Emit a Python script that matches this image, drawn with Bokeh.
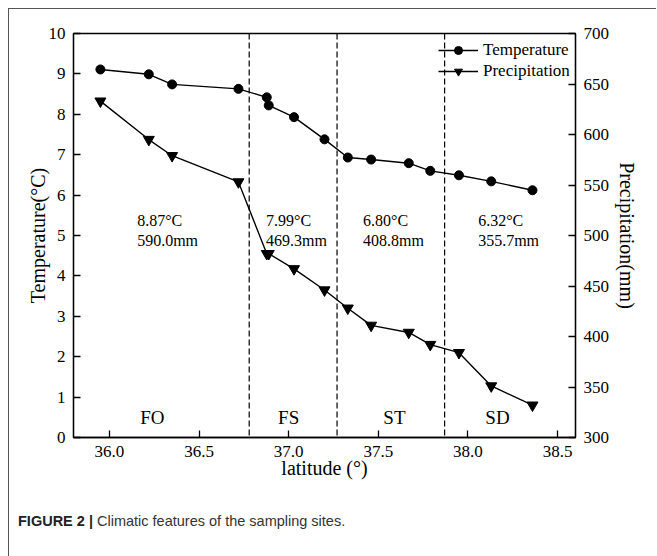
from bokeh.plotting import figure
from bokeh.models import Range1d, LinearAxis, Span, Legend, LegendItem, FixedTicker, ColumnDataSource, Div
from bokeh.layouts import column
from bokeh.core.properties import value
from bokeh.embed import file_html
from bokeh.resources import INLINE

# ---------------- data ----------------
latitude = [35.95, 36.22, 36.35, 36.72, 36.878, 36.889, 37.03, 37.20, 37.33,
            37.46, 37.67, 37.79, 37.95, 38.13, 38.36]
temperature = [9.11, 8.99, 8.74, 8.63, 8.42, 8.22, 7.93, 7.38, 6.93,
               6.88, 6.79, 6.60, 6.49, 6.34, 6.12]
precipitation = [633, 595, 579, 553, 482, 482, 467, 446, 428,
                 411, 404, 392, 384, 351, 332]
zone_bounds = [36.78, 37.27, 37.87]
zone_names = ["FO", "FS", "ST", "SD"]
zone_temp_text = ["8.87°C", "7.99°C", "6.80°C", "6.32°C"]
zone_precip_text = ["590.0mm", "469.3mm", "408.8mm", "355.7mm"]
x_ticks = [36.0, 36.5, 37.0, 37.5, 38.0, 38.5]
temp_ticks = [0, 1, 2, 3, 4, 5, 6, 7, 8, 9, 10]
precip_ticks = [300, 350, 400, 450, 500, 550, 600, 650, 700]
caption_bold = "FIGURE 2 |"
caption_text = "Climatic features of the sampling sites."

# layout positions for the zone annotations (data units)
zone_text_x = [36.155, 36.874, 37.415, 38.057]
zone_name_x = [36.24, 37.0, 37.59, 38.165]
temp_text_y = 5.37
precip_text_y = 4.88
name_text_y = 0.5

SERIF = "Liberation Serif"

fig = figure(width=648, height=500, x_range=Range1d(35.8, 38.6), y_range=Range1d(0, 10),
             output_backend="svg", toolbar_location=None,
             min_border_left=64, min_border_right=82, min_border_top=24, min_border_bottom=72)
fig.margin = (8, 0, 0, 8)
fig.styles = {"border-left": "1px solid #555", "border-top": "1px solid #555"}
fig.extra_y_ranges = {"precip": Range1d(300, 700)}
fig.grid.visible = False
fig.outline_line_color = "black"
fig.outline_line_width = 1.3
fig.background_fill_color = "white"
fig.border_fill_color = "white"

xa = fig.xaxis[0]
ya = fig.yaxis[0]
xa.ticker = FixedTicker(ticks=x_ticks)
ya.ticker = FixedTicker(ticks=temp_ticks)
xa.axis_label = "latitude (°)"
ya.axis_label = "Temperature(°C)"

ra = LinearAxis(y_range_name="precip", ticker=FixedTicker(ticks=precip_ticks),
                axis_label="Precipitation(mm)")
fig.add_layout(ra, "right")

for ax in (xa, ya, ra):
    ax.axis_line_color = "black"
    ax.axis_line_width = 1.3
    ax.major_tick_line_color = "black"
    ax.major_tick_line_width = 1.3
    ax.major_tick_in = 7
    ax.major_tick_out = 0
    ax.minor_tick_line_color = None
    ax.major_label_text_font = SERIF
    ax.major_label_text_font_size = "17px"
    ax.major_label_text_color = "black"
    ax.axis_label_text_font = SERIF
    ax.axis_label_text_font_size = "20px"
    ax.axis_label_text_font_style = "normal"
    ax.axis_label_text_color = "black"
    ax.major_label_standoff = 8

xa.axis_label_standoff = -3
ya.axis_label_standoff = -3
ra.axis_label_standoff = 4
ra.axis_label_orientation = "vertical"

xa.major_label_overrides = {v: f"{v:.1f}" for v in x_ticks}

# dashed zone boundaries
for b in zone_bounds:
    fig.add_layout(Span(location=b, dimension="height", line_color="black",
                        line_dash="6 3", line_width=1.2))

# series
t_line = fig.line(latitude, temperature, line_color="black", line_width=1.4)
t_sc = fig.scatter(latitude, temperature, marker="circle", size=9, fill_color="black",
                   line_color="black")
p_line = fig.line(latitude, precipitation, line_color="black", line_width=1.4,
                  y_range_name="precip")
p_sc = fig.scatter(latitude, precipitation, marker="inverted_triangle", size=11,
                   fill_color="black", line_color="black", y_range_name="precip")

# zone annotations
src_t = ColumnDataSource(dict(x=zone_text_x, y=[temp_text_y] * 4, t=zone_temp_text))
src_p = ColumnDataSource(dict(x=zone_text_x, y=[precip_text_y] * 4, t=zone_precip_text))
src_n = ColumnDataSource(dict(x=zone_name_x, y=[name_text_y] * 4, t=zone_names))
fig.text("x", "y", text="t", source=src_t, text_font=value(SERIF), text_font_size="16px",
         text_align="left", text_baseline="alphabetic", text_color="black")
fig.text("x", "y", text="t", source=src_p, text_font=value(SERIF), text_font_size="16px",
         text_align="left", text_baseline="alphabetic", text_color="black")
fig.text("x", "y", text="t", source=src_n, text_font=value(SERIF), text_font_size="19px",
         text_align="center", text_baseline="alphabetic", text_color="black")

legend = Legend(items=[LegendItem(label="Temperature", renderers=[t_line, t_sc]),
                       LegendItem(label="Precipitation", renderers=[p_line, p_sc])],
                location=(365, 356))
legend.label_text_font = SERIF
legend.label_text_font_size = "17px"
legend.label_text_color = "black"
legend.glyph_width = 40
legend.glyph_height = 20
legend.label_height = 20
legend.label_standoff = 5
legend.spacing = 1
legend.padding = 0
legend.margin = 0
legend.border_line_color = None
legend.background_fill_alpha = 0
fig.add_layout(legend)

# caption below the chart, inside the same outer frame
cap = Div(
    text=('<div style="font-family:\'Liberation Sans\',Arial,sans-serif;font-size:14.5px;'
          'line-height:18px;color:#333;padding:4px 0 0 9px;white-space:nowrap;">'
          f'<span style="font-weight:bold;color:#222;">{caption_bold}</span> '
          f'{caption_text}</div>'),
    width=648, height=48, margin=(0, 0, 0, 8),
    styles={"border-left": "1px solid #555", "background-color": "white"})

p = column(fig, cap, spacing=0)

open("out.html", "w").write(file_html(p, INLINE))
